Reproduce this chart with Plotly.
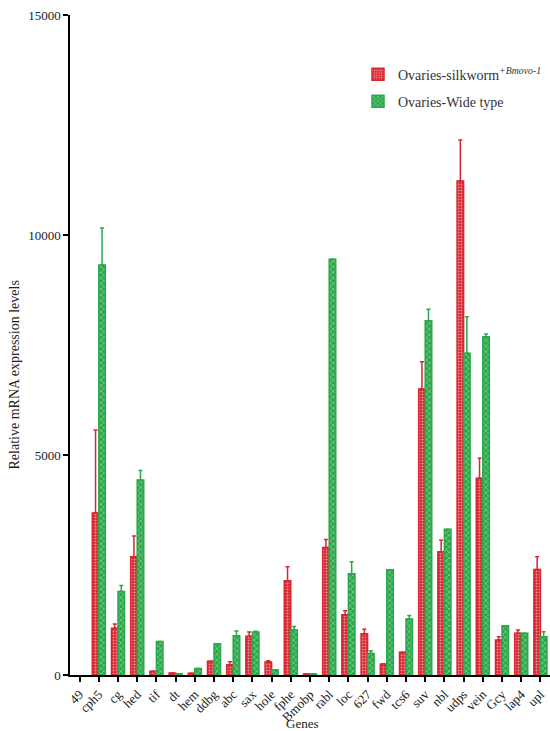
import plotly.graph_objects as go

# Relative mRNA expression levels per gene, two ovary groups
genes = ["49", "cph5", "cg", "hed", "tif", "dt", "hem", "ddbg", "abc", "sax",
         "hole", "fphe", "Bmobp", "rabl", "loc", "627", "fwd", "tcs6", "suv",
         "nbl", "udps", "vein", "Gcy", "lap4", "upl"]

# "49" was not detected in either group (no bar drawn)
silkworm = [None, 3680, 1060, 2690, 85, 45, 40, 310, 235, 880,
            295, 2140, 25, 2900, 1370, 935, 250, 515, 6500,
            2800, 11230, 4470, 795, 950, 2400]
silkworm_err = [0, 1890, 100, 470, 0, 0, 0, 0, 65, 100,
                30, 320, 0, 180, 90, 105, 0, 0, 620,
                265, 930, 455, 75, 75, 290]

wild = [None, 9320, 1900, 4430, 760, 30, 150, 710, 890, 975,
        120, 1025, 25, 9450, 2300, 490, 2390, 1270, 8050,
        3310, 7310, 7690, 1120, 950, 870]
wild_err = [0, 840, 135, 215, 0, 0, 0, 0, 110, 20,
            0, 75, 0, 0, 275, 60, 0, 80, 260,
            0, 830, 60, 0, 0, 115]

y_ticks = [0, 5000, 10000, 15000]

RED = "#d9252f"
GREEN = "#2aa84a"
FONT = "Liberation Serif"
TXT = "#222"

fig = go.Figure()

fig.add_trace(go.Bar(
    x=genes, y=silkworm,
    name="Ovaries-silkworm<sup><i>+Bmovo-1</i></sup>",
    legendgroup="silkworm",
    marker=dict(
        color=RED,
        line=dict(color=RED, width=1.5),
        pattern=dict(shape=".", fgcolor="white", bgcolor=RED,
                     size=3, solidity=0.35),
    ),
    error_y=dict(type="data", symmetric=False, array=silkworm_err,
                 arrayminus=[0] * len(genes), color=RED,
                 thickness=1.5, width=2),
))

fig.add_trace(go.Bar(
    x=genes, y=wild,
    name="Ovaries-Wide type",
    legendgroup="wild",
    marker=dict(
        color=GREEN,
        line=dict(color=GREEN, width=1.5),
        pattern=dict(shape="x", fgcolor="white", bgcolor=GREEN,
                     size=4, solidity=0.3),
    ),
    error_y=dict(type="data", symmetric=False, array=wild_err,
                 arrayminus=[0] * len(genes), color=GREEN,
                 thickness=1.5, width=2),
))

fig.update_layout(
    width=550, height=731,
    margin=dict(l=70, r=0, t=15, b=56),
    paper_bgcolor="white", plot_bgcolor="white",
    barmode="group", bargap=0.32, bargroupgap=0,
    font=dict(family=FONT, size=13, color=TXT),
    legend=dict(
        x=0.6, y=0.934, xanchor="left", yanchor="top",
        font=dict(family=FONT, size=14, color="#333"),
        bgcolor="rgba(0,0,0,0)", traceorder="grouped", tracegroupgap=6,
        itemwidth=30,
    ),
    showlegend=True,
    annotations=[
        dict(text="Relative mRNA expression levels",
             xref="paper", yref="paper", x=-0.115, y=0.455,
             xanchor="center", yanchor="middle", textangle=-90,
             showarrow=False, font=dict(family=FONT, size=14, color=TXT)),
        dict(text="Genes", xref="paper", yref="paper", x=0.485, y=0,
             xanchor="center", yanchor="top", yshift=-39, showarrow=False,
             font=dict(family=FONT, size=13, color=TXT)),
    ],
)

fig.update_xaxes(
    range=[-0.5, len(genes) - 0.5], automargin=False,
    showline=True, linecolor="black", linewidth=1.5,
    ticks="outside", ticklen=5, tickcolor="black", tickwidth=1.5,
    tickangle=-45, tickfont=dict(family=FONT, size=13, color=TXT),
    showgrid=False, zeroline=False,
)

fig.update_yaxes(
    range=[0, 15000], automargin=False,
    tickvals=y_ticks, ticktext=[str(v) for v in y_ticks],
    showline=True, linecolor="black", linewidth=1.5,
    ticks="outside", ticklen=5, tickcolor="black", tickwidth=1.5,
    tickfont=dict(family=FONT, size=13, color=TXT),
    showgrid=False, zeroline=False,
)

fig.write_html("out.html")
